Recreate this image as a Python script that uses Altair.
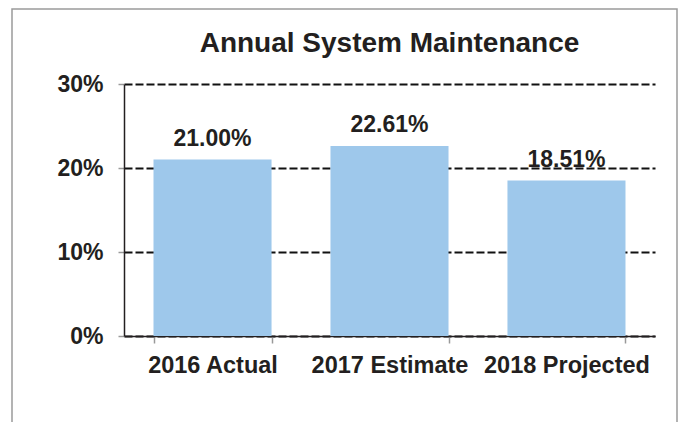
import altair as alt
import pandas as pd

categories = ["2016 Actual", "2017 Estimate", "2018 Projected"]
values = [21.00, 22.61, 18.51]
labels = ["21.00%", "22.61%", "18.51%"]
y_ticks = [0, 10, 20, 30]

df = pd.DataFrame({"cat": categories, "val": values, "label": labels})

FONT = "Liberation Sans"
INK = "#231f20"

x = alt.X(
    "cat:N", sort=categories, title=None,
    scale=alt.Scale(paddingInner=0.333, paddingOuter=0.1667),
    axis=alt.Axis(labelAngle=0, labelFont=FONT, labelFontSize=23.5, labelFontWeight="bold",
                  labelColor=INK, domainColor=INK, domainWidth=1.5, tickColor="#999999",
                  tickSize=7, tickWidth=1.5, tickBand="extent", labelPadding=29,
                  labelBaseline="alphabetic", grid=False),
)
y = alt.Y(
    "val:Q", title=None, scale=alt.Scale(domain=[0, 30]),
    axis=alt.Axis(values=y_ticks, labelExpr="datum.value + '%'", labelFont=FONT,
                  labelFontSize=23, labelFontWeight="bold", labelColor=INK,
                  domainColor=INK, domainWidth=1.5, tickColor="#999999", tickSize=6,
                  tickWidth=1.5, labelPadding=15, grid=True, gridColor="#111111",
                  gridDash=[8, 3], gridWidth=2),
)

base = alt.Chart(df)
bars = base.mark_bar(color="#9EC8EB").encode(x=x, y=y)
text = base.mark_text(dy=-14, baseline="alphabetic", font=FONT, fontSize=23,
                      fontWeight="bold", color=INK).encode(
    x=alt.X("cat:N", sort=categories), y="val:Q", text="label:N")

frame = alt.Chart(pd.DataFrame({"f": [0]})).mark_rect(
    fill=None, stroke="#9a9a9a", strokeWidth=1.5).encode(
    x=alt.value(-112), x2=alt.value(553), y=alt.value(-75), y2=alt.value(360))

chart = alt.layer(bars, text, frame).properties(
    width=531, height=252,
    title=alt.TitleParams("Annual System Maintenance", font=FONT, fontSize=28,
                          fontWeight="bold", color=INK, anchor="middle",
                          baseline="alphabetic", dy=76),
    autosize=alt.AutoSizeParams(type="none"),
    padding={"left": 116, "top": 76, "right": 24, "bottom": 86},
).configure_view(stroke=None)

chart.save("out.html", embed_options={"renderer": "svg", "actions": False})
